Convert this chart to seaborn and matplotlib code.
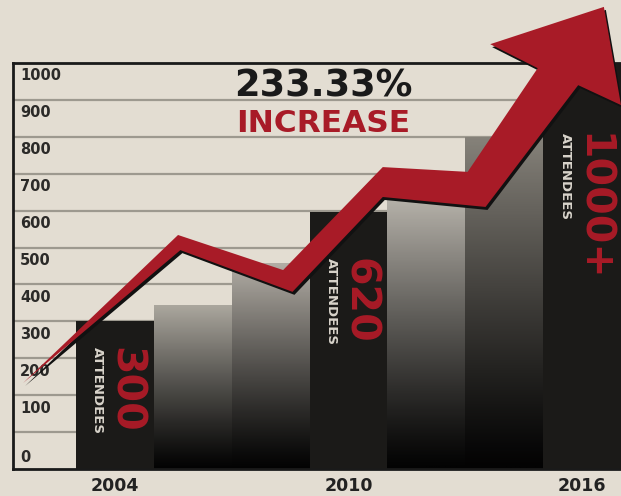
import numpy as np
import pandas as pd
import seaborn as sns
import matplotlib.pyplot as plt
from matplotlib.patches import Polygon
from matplotlib.colors import LinearSegmentedColormap
from matplotlib import transforms

years = ["2004", "2006", "2008", "2010", "2012", "2014", "2016"]
attendees = [300, 345, 458, 595, 635, 800, 1000]
highlight_years = ["2004", "2010", "2016"]
highlight_labels = ["300", "620", "1000+"]
y_ticks = [0, 100, 200, 300, 400, 500, 600, 700, 800, 900, 1000]
headline = "233.33%"
subline = "INCREASE"
# outline of the trend arrow (bar index, attendees)
arrow_x = [-1.18, 0.81, 2.16, 3.44, 4.53, 5.43, 4.82, 6.28, 6.50, 5.95, 4.76, 3.44, 2.28, 0.84]
arrow_y = [133, 534, 439, 718, 705, 986, 1051, 1152, 886, 940, 610, 637, 380, 493]

bg = "#e3ddd2"
dark = "#1b1a18"
red = "#a81b27"
top_shade = {"2006": "#aca89f", "2008": "#b2ada5", "2012": "#b6b2aa", "2014": "#86827a"}

sns.set_theme(style="white")
plt.rcParams["font.family"] = ["DejaVu Sans"]

df = pd.DataFrame({"Year": years, "Attendees": attendees})

fig = plt.figure(figsize=(6.21, 4.96), dpi=100, facecolor=bg)
ax = fig.add_axes([13 / 621, 27 / 496, 608 / 621, 406 / 496])
ax.set_facecolor(bg)

pal = {y: dark for y in years}
ax = sns.barplot(data=df, x="Year", y="Attendees", hue="Year", palette=pal,
                 legend=False, width=1.0, saturation=1, ax=ax, zorder=2)

# bars run down to the bottom of the frame
for p in ax.patches:
    h = p.get_height()
    p.set_y(-100)
    p.set_height(h + 100)
    p.set_edgecolor("none")

# gradient fill on the in-between years
grad = np.linspace(0, 1, 256).reshape(-1, 1) ** 1.15
for p, yr in zip(ax.patches, years):
    if yr in top_shade:
        x0, w = p.get_x(), p.get_width()
        top = p.get_y() + p.get_height()
        cmap = LinearSegmentedColormap.from_list("g" + yr, ["#030303", top_shade[yr]])
        im = ax.imshow(grad, extent=[x0, x0 + w, -100, top], origin="lower",
                       cmap=cmap, aspect="auto", zorder=2.1, vmin=0, vmax=1)
        im.set_clip_path(p)

ax.set_xlim(-1.31, 6.5)
ax.set_ylim(-100, 1000)
ax.set_aspect("auto")

# grid + frame
for v in y_ticks[:-1]:
    ax.axhline(v, color="#9d998f", lw=1.6, zorder=0.5)
for s in ["left", "top", "bottom"]:
    ax.spines[s].set_visible(True)
    ax.spines[s].set_color("#1a1a1a")
    ax.spines[s].set_linewidth(2)
ax.spines["right"].set_visible(False)

ax.set_yticks([])
ax.set_xlabel("")
ax.set_ylabel("")
for v in y_ticks:
    ypos = v - 35 if v > 0 else v - 68
    ax.text(0.0115, ypos, str(v), transform=transforms.blended_transform_factory(ax.transAxes, ax.transData),
            ha="left", va="center", fontsize=10.5, fontweight="bold", color="#2b2a28", zorder=1)

idx = [years.index(y) for y in highlight_years]
ax.set_xticks(idx)
ax.set_xticklabels(highlight_years, fontsize=12.5, fontweight="bold", color="#222222")
ax.tick_params(axis="x", length=0, pad=6)

# labels on highlighted bars
text_top = [231, 472, 810]
for i, lab, t in zip(idx, highlight_labels, text_top):
    ax.text(i - 0.22, t, "ATTENDEES", rotation=270, ha="center", va="top",
            fontsize=9.5, fontweight="bold", color="#d9d4cb", zorder=4)
    ax.text(i + 0.13, t, lab, rotation=270, ha="center", va="top",
            fontsize=29.5, fontweight="bold", color=red, zorder=4)

# headline
ax.text(2.67, 908, headline, ha="center", va="baseline", fontsize=26.5,
        fontweight="bold", color="#1a1a1a", zorder=3)
ax.text(2.67, 813, subline, ha="center", va="baseline", fontsize=22.5,
        fontweight="bold", color=red, zorder=3)

# trend arrow with drop shadow
pts = np.column_stack([arrow_x, arrow_y])
shadow = Polygon(pts, closed=True, facecolor="#111111", edgecolor="none", zorder=5,
                 clip_on=False,
                 transform=transforms.offset_copy(ax.transData, fig=fig, x=2, y=-3, units="dots"))
ax.add_patch(shadow)
ax.add_patch(Polygon(pts, closed=True, facecolor=red, edgecolor="none", zorder=6, clip_on=False))

fig.savefig("out.png", dpi=100, facecolor=bg)
